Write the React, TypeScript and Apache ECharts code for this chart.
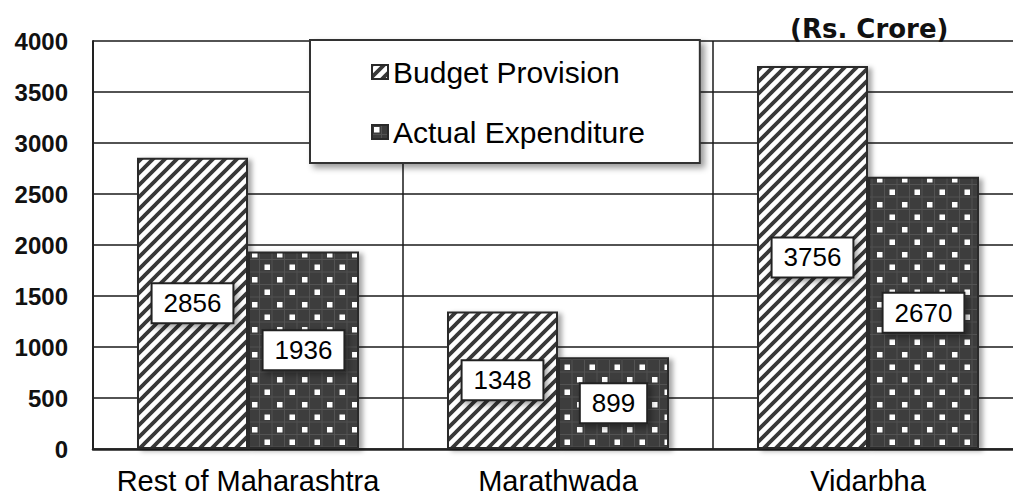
import React, { useEffect, useRef } from "react";
import * as echarts from "echarts";

const categories = ["Rest of Maharashtra", "Marathwada", "Vidarbha"];
const seriesNames = ["Budget Provision", "Actual Expenditure"];
const budgetProvision = [2856, 1348, 3756];
const actualExpenditure = [1936, 899, 2670];
const yMin = 0;
const yMax = 4000;
const yInterval = 500;
const unitText = "(Rs. Crore)";

function makeStripePattern() {
  const s = 12;
  const c = document.createElement("canvas");
  c.width = s;
  c.height = s;
  const ctx = c.getContext("2d")!;
  ctx.fillStyle = "#ffffff";
  ctx.fillRect(0, 0, s, s);
  ctx.strokeStyle = "#383838";
  ctx.lineWidth = 3.8;
  ctx.beginPath();
  for (const k of [0, s, 2 * s]) {
    ctx.moveTo(k + 3, -3);
    ctx.lineTo(k - s - 3, s + 3);
  }
  ctx.stroke();
  return { image: c, repeat: "repeat", imageWidth: s, imageHeight: s };
}

function makeDotPattern() {
  const w = 25;
  const h = 25;
  const c = document.createElement("canvas");
  c.width = w;
  c.height = h;
  const ctx = c.getContext("2d")!;
  ctx.fillStyle = "#3c3c3c";
  ctx.fillRect(0, 0, w, h);
  ctx.fillStyle = "#535353";
  ctx.fillRect(0, 9, w, 1);
  ctx.fillRect(0, 21.5, w, 1);
  ctx.fillRect(9, 0, 1, h);
  ctx.fillRect(21.5, 0, 1, h);
  ctx.fillStyle = "#ffffff";
  ctx.fillRect(2, 2, 5.5, 5.5);
  ctx.fillRect(14.5, 14.5, 5.5, 5.5);
  return { image: c, repeat: "repeat", imageWidth: w, imageHeight: h };
}

export default function App() {
  const ref = useRef<HTMLDivElement>(null);

  useEffect(() => {
    if (!ref.current) return;
    const chart = echarts.init(ref.current, null, { renderer: "svg" });
    const stripe = makeStripePattern();
    const dots = makeDotPattern();
    const font = "'Liberation Sans', Arial, sans-serif";

    const labelStyle = {
      show: true,
      position: "inside",
      fontFamily: font,
      fontSize: 26,
      color: "#000",
      backgroundColor: "#ffffff",
      borderColor: "#222",
      borderWidth: 2,
      padding: [6, 11, 6, 11],
      shadowBlur: 6,
      shadowOffsetX: 3,
      shadowOffsetY: 3,
      shadowColor: "rgba(0,0,0,0.4)",
    };

    const barShadow = {
      shadowBlur: 5,
      shadowOffsetX: 4,
      shadowOffsetY: 2,
      shadowColor: "rgba(0,0,0,0.35)",
    };

    chart.setOption({
      animation: false,
      backgroundColor: "#ffffff",
      title: {
        text: unitText,
        left: 790,
        top: 16,
        padding: 0,
        textStyle: {
          fontFamily: "'DejaVu Sans', Verdana, sans-serif",
          fontWeight: "bold",
          fontSize: 26,
          color: "#111",
        },
      },
      legend: {
        data: seriesNames,
        orient: "vertical",
        left: 310,
        top: 40,
        padding: [17, 55, 16, 61],
        itemGap: 30,
        itemWidth: 16,
        itemHeight: 14,
        icon: "rect",
        backgroundColor: "#ffffff",
        borderColor: "#333",
        borderWidth: 2,
        shadowBlur: 6,
        shadowOffsetX: 4,
        shadowOffsetY: 4,
        shadowColor: "rgba(0,0,0,0.4)",
        textStyle: { fontFamily: font, fontSize: 30, color: "#000" },
      },
      grid: { left: 93, right: 0, top: 41, bottom: 46, containLabel: false },
      xAxis: {
        type: "category",
        data: categories,
        axisLine: { show: true, lineStyle: { color: "#222", width: 2.5 } },
        axisTick: { show: false },
        splitLine: { show: true, interval: 0, lineStyle: { color: "#1a1a1a", width: 1.5 } },
        axisLabel: {
          interval: 0,
          margin: 17,
          fontFamily: font,
          fontSize: 29,
          color: "#000",
        },
      },
      yAxis: {
        type: "value",
        min: yMin,
        max: yMax,
        interval: yInterval,
        axisLine: { show: true, lineStyle: { color: "#222", width: 2 } },
        axisTick: { show: false },
        splitLine: { show: true, lineStyle: { color: "#1a1a1a", width: 1.5 } },
        axisLabel: {
          margin: 25,
          formatter: (v: number) => String(v),
          fontFamily: font,
          fontWeight: "bold",
          fontSize: 24,
          color: "#111",
        },
      },
      series: [
        {
          name: seriesNames[0],
          type: "bar",
          data: budgetProvision,
          barWidth: 111,
          barGap: "0%",
          itemStyle: { color: stripe, borderColor: "#2a2a2a", borderWidth: 2, ...barShadow },
          label: labelStyle,
        },
        {
          name: seriesNames[1],
          type: "bar",
          data: actualExpenditure,
          barWidth: 111,
          barGap: "0%",
          itemStyle: { color: dots, borderColor: "#2a2a2a", borderWidth: 2, ...barShadow },
          label: labelStyle,
        },
      ],
    });

    return () => chart.dispose();
  }, []);

  return (
    <div
      ref={ref}
      style={{ position: "fixed", left: 0, top: 0, width: 1023, height: 495, overflow: "hidden" }}
    />
  );
}
